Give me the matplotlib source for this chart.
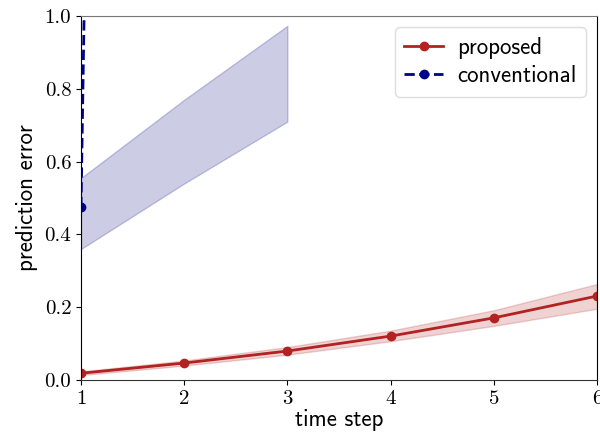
import numpy as np
import matplotlib
matplotlib.use("Agg")
import matplotlib.pyplot as plt

# time steps
steps = [1, 2, 3, 4, 5, 6]

# proposed method: mean error and band
proposed = [0.019, 0.047, 0.080, 0.121, 0.171, 0.231]
proposed_lo = [0.014, 0.040, 0.070, 0.107, 0.149, 0.196]
proposed_hi = [0.024, 0.054, 0.091, 0.136, 0.192, 0.264]

# conventional method: blows up after the first step
conv_steps = [1, 2, 3]
conventional = [0.475, 18.0, 60.0]
conventional_lo = [0.36, 0.54, 0.71]
conventional_hi = [0.555, 0.77, 0.973]

plt.rcParams['mathtext.fontset'] = 'cm'
plt.rcParams['axes.formatter.use_mathtext'] = True

fig = plt.figure(figsize=(6, 4.32), dpi=100)
ax = fig.add_axes([0.135, 0.12, 0.86, 0.843])

red = '#b22222'
blue = '#00008b'

ax.fill_between(steps, proposed_lo, proposed_hi, color=red, alpha=0.2, linewidth=1)
ax.plot(steps, proposed, '-o', color=red, lw=2, ms=6, label='proposed')

ax.fill_between(conv_steps, conventional_lo, conventional_hi, color='navy', alpha=0.2, linewidth=1)
ax.plot(conv_steps, conventional, '--o', color=blue, lw=2, ms=6, label='conventional')

ax.set_xlim(1, 6)
ax.set_ylim(0, 1)
ax.set_xticks(steps)
ax.set_yticks([0.0, 0.2, 0.4, 0.6, 0.8, 1.0])
ax.set_xticklabels([str(s) for s in steps])
ax.set_yticklabels(['%.1f' % v for v in [0.0, 0.2, 0.4, 0.6, 0.8, 1.0]])
for lab in ax.get_xticklabels() + ax.get_yticklabels():
    lab.set_fontfamily('cmr10')
    lab.set_fontsize(15)

ax.set_xlabel('time step', fontfamily='cmss10', fontsize=16.5, labelpad=1)
ax.set_ylabel('prediction error', fontfamily='cmss10', fontsize=16.5, labelpad=5)

ax.spines['top'].set_color('#777777')
ax.spines['bottom'].set_color('#333333')

leg = ax.legend(loc='upper right', prop={'family': 'cmss10', 'size': 16.5},
                handlelength=1.7, borderpad=0.4, labelspacing=0.3,
                handletextpad=0.6, framealpha=1.0)
leg.get_frame().set_edgecolor('#dddddd')

fig.savefig('out.png', dpi=100)
